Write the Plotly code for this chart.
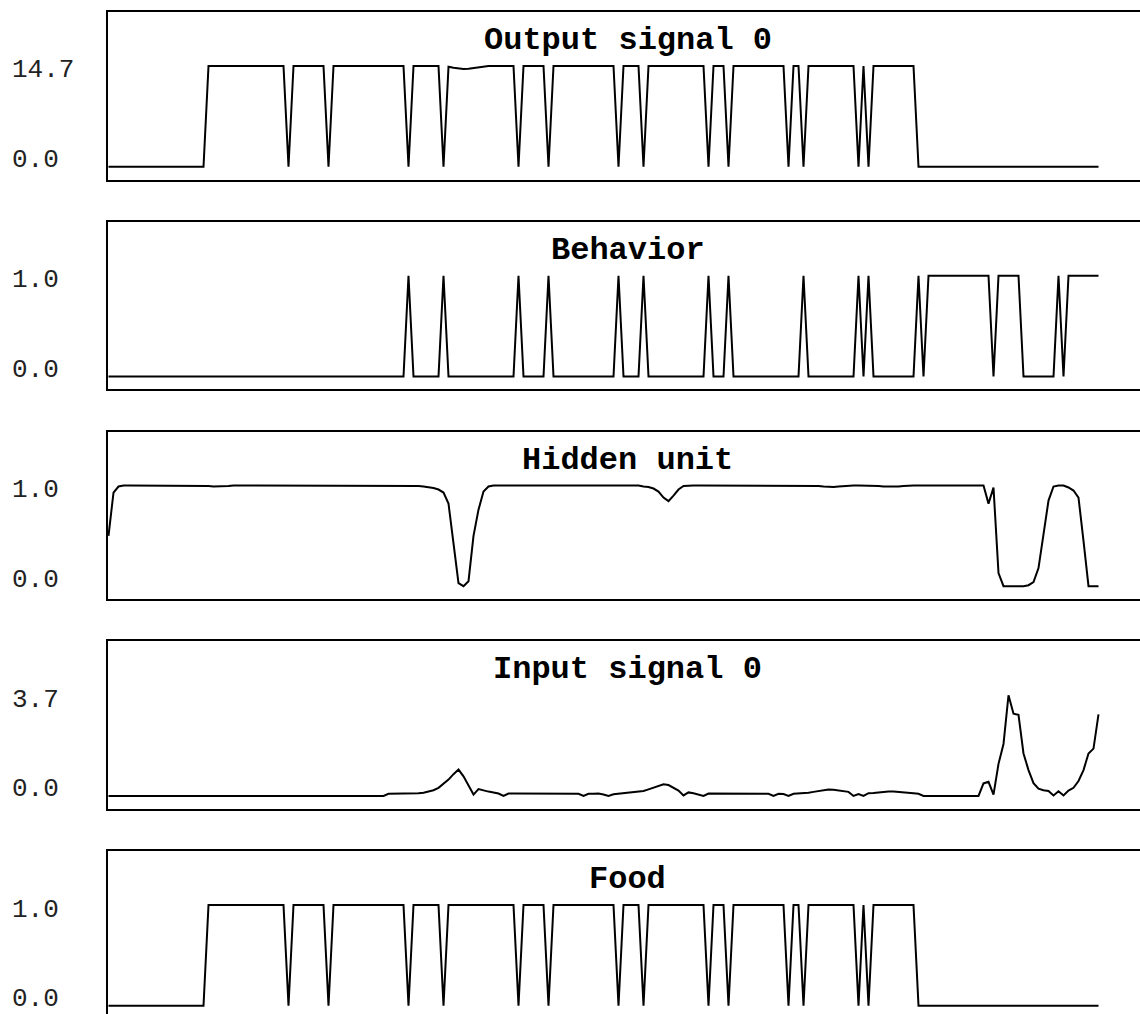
import plotly.graph_objects as go

W, H = 1140, 1014

steps = list(range(199))

food = [
    0,0,0,0,0,0,0,0,0,0, 0,0,0,0,0,0,0,0,0,0,
    1,1,1,1,1,1,1,1,1,1, 1,1,1,1,1,1,0,1,1,1,
    1,1,1,1,0,1,1,1,1,1, 1,1,1,1,1,1,1,1,1,1,
    0,1,1,1,1,1,1,0,1,1, 1,1,1,1,1,1,1,1,1,1,
    1,1,0,1,1,1,1,1,0,1, 1,1,1,1,1,1,1,1,1,1,
    1,1,0,1,1,1,1,0,1,1, 1,1,1,1,1,1,1,1,1,1,
    0,1,1,1,0,1,1,1,1,1, 1,1,1,1,1,1,0,1,1,0,
    1,1,1,1,1,1,1,1,1,1, 0,1,0,1,1,1,1,1,1,1,
    1,1,0,0,0,0,0,0,0,0, 0,0,0,0,0,0,0,0,0,0,
    0,0,0,0,0,0,0,0,0,0, 0,0,0,0,0,0,0,0,0,
]

output_signal = [
    0.0,0.0,0.0,0.0,0.0,0.0,0.0,0.0,0.0,0.0, 0.0,0.0,0.0,0.0,0.0,0.0,0.0,0.0,0.0,0.0,
    14.7,14.7,14.7,14.7,14.7,14.7,14.7,14.7,14.7,14.7, 14.7,14.7,14.7,14.7,14.7,14.7,0.0,14.7,14.7,14.7,
    14.7,14.7,14.7,14.7,0.0,14.7,14.7,14.7,14.7,14.7, 14.7,14.7,14.7,14.7,14.7,14.7,14.7,14.7,14.7,14.7,
    0.0,14.7,14.7,14.7,14.7,14.7,14.7,0.0,14.6,14.45, 14.3,14.25,14.3,14.4,14.55,14.65,14.7,14.7,14.7,14.7,
    14.7,14.7,0.0,14.7,14.7,14.7,14.7,14.7,0.0,14.7, 14.7,14.7,14.7,14.7,14.7,14.7,14.7,14.7,14.7,14.7,
    14.7,14.7,0.0,14.7,14.7,14.7,14.7,0.0,14.7,14.7, 14.7,14.7,14.65,14.6,14.6,14.65,14.7,14.7,14.7,14.7,
    0.0,14.7,14.7,14.7,0.0,14.7,14.7,14.7,14.7,14.7, 14.7,14.7,14.7,14.7,14.7,14.7,0.0,14.7,14.7,0.0,
    14.7,14.7,14.7,14.7,14.7,14.7,14.7,14.7,14.7,14.7, 0.0,14.7,0.0,14.7,14.7,14.7,14.7,14.7,14.7,14.7,
    14.7,14.7,0.0,0.0,0.0,0.0,0.0,0.0,0.0,0.0, 0.0,0.0,0.0,0.0,0.0,0.0,0.0,0.0,0.0,0.0,
    0.0,0.0,0.0,0.0,0.0,0.0,0.0,0.0,0.0,0.0, 0.0,0.0,0.0,0.0,0.0,0.0,0.0,0.0,0.0,
]

behavior = [
    0,0,0,0,0,0,0,0,0,0, 0,0,0,0,0,0,0,0,0,0,
    0,0,0,0,0,0,0,0,0,0, 0,0,0,0,0,0,0,0,0,0,
    0,0,0,0,0,0,0,0,0,0, 0,0,0,0,0,0,0,0,0,0,
    1,0,0,0,0,0,0,1,0,0, 0,0,0,0,0,0,0,0,0,0,
    0,0,1,0,0,0,0,0,1,0, 0,0,0,0,0,0,0,0,0,0,
    0,0,1,0,0,0,0,1,0,0, 0,0,0,0,0,0,0,0,0,0,
    1,0,0,0,1,0,0,0,0,0, 0,0,0,0,0,0,0,0,0,1,
    0,0,0,0,0,0,0,0,0,0, 1,0,1,0,0,0,0,0,0,0,
    0,0,1,0,1,1,1,1,1,1, 1,1,1,1,1,1,1,0,1,1,
    1,1,1,0,0,0,0,0,0,0, 1,0,1,1,1,1,1,1,1,
]

hidden_unit = [
    0.50,0.93,0.99,1.00,1.00,1.00,1.00,1.00,1.00,1.00, 1.00,1.00,1.00,1.00,1.00,1.00,1.00,1.00,1.00,1.00,
    0.995,0.99,0.99,0.99,0.995,1.00,1.00,1.00,1.00,1.00, 1.00,1.00,1.00,1.00,1.00,1.00,1.00,1.00,1.00,1.00,
    1.00,1.00,1.00,1.00,1.00,1.00,1.00,1.00,1.00,1.00, 1.00,1.00,1.00,1.00,1.00,1.00,1.00,1.00,1.00,1.00,
    1.00,1.00,0.995,0.99,0.985,0.975,0.96,0.93,0.82,0.42, 0.03,0.00,0.05,0.50,0.76,0.94,0.99,1.00,1.00,1.00,
    1.00,1.00,1.00,1.00,1.00,1.00,1.00,1.00,1.00,1.00, 1.00,1.00,1.00,1.00,1.00,1.00,1.00,1.00,1.00,1.00,
    1.00,1.00,1.00,1.00,1.00,1.00,1.00,0.99,0.985,0.97, 0.94,0.88,0.845,0.90,0.96,0.995,1.00,1.00,1.00,1.00,
    1.00,1.00,1.00,1.00,1.00,1.00,1.00,1.00,1.00,1.00, 1.00,1.00,1.00,1.00,1.00,1.00,1.00,1.00,1.00,1.00,
    1.00,1.00,0.995,0.99,0.985,0.985,0.99,0.995,1.00,1.00, 1.00,1.00,1.00,1.00,0.995,0.99,0.99,0.985,0.99,0.995,
    1.00,1.00,1.00,1.00,1.00,1.00,1.00,1.00,1.00,1.00, 1.00,1.00,1.00,1.00,1.00,1.00,0.82,0.98,0.13,0.00,
    0.00,0.00,0.00,0.00,0.01,0.04,0.18,0.50,0.85,0.99, 1.00,1.00,0.98,0.95,0.88,0.45,0.00,0.00,0.00,
]

input_signal = [
    0.00,0.00,0.00,0.00,0.00,0.00,0.00,0.00,0.00,0.00, 0.00,0.00,0.00,0.00,0.00,0.00,0.00,0.00,0.00,0.00,
    0.00,0.00,0.00,0.00,0.00,0.00,0.00,0.00,0.00,0.00, 0.00,0.00,0.00,0.00,0.00,0.00,0.00,0.00,0.00,0.00,
    0.00,0.00,0.00,0.00,0.00,0.00,0.00,0.00,0.00,0.00, 0.00,0.00,0.00,0.00,0.00,0.00,0.08,0.08,0.08,0.08,
    0.08,0.09,0.10,0.12,0.16,0.21,0.30,0.45,0.60,0.80, 0.97,0.72,0.40,0.05,0.25,0.20,0.16,0.13,0.09,0.00,
    0.09,0.09,0.09,0.09,0.09,0.09,0.09,0.09,0.09,0.09, 0.09,0.09,0.09,0.09,0.08,0.00,0.08,0.08,0.09,0.05,
    0.00,0.06,0.08,0.10,0.11,0.12,0.15,0.18,0.24,0.30, 0.38,0.43,0.40,0.30,0.20,0.02,0.13,0.10,0.06,0.00,
    0.09,0.09,0.09,0.09,0.09,0.09,0.09,0.09,0.09,0.09, 0.09,0.09,0.08,0.00,0.08,0.07,0.00,0.08,0.09,0.10,
    0.12,0.15,0.18,0.21,0.24,0.23,0.21,0.18,0.15,0.00, 0.07,0.00,0.10,0.11,0.13,0.15,0.16,0.16,0.15,0.13,
    0.12,0.10,0.08,0.00,0.00,0.00,0.00,0.00,0.00,0.00, 0.00,0.00,0.00,0.00,0.00,0.46,0.52,0.05,1.18,1.91,
    3.70,3.02,2.98,1.56,0.95,0.47,0.27,0.21,0.18,0.02, 0.17,0.02,0.20,0.30,0.55,0.95,1.56,1.74,3.00,
]

titles = ["Output signal 0", "Behavior", "Hidden unit", "Input signal 0", "Food"]
series = [output_signal, behavior, hidden_unit, input_signal, food]
max_values = [14.7, 1.0, 1.0, 3.7, 1.0]
max_labels = ["14.7", "1.0", "1.0", "3.7", "1.0"]
min_label = "0.0"

# ---- layout geometry (pixels) ----
TOP0 = 11.0        # centre of first panel's top border
PITCH = 209.75     # vertical distance between panels
BOX_H = 169.5      # border centre to border centre
ZERO_OFF = 155.7   # zero level below top border
MAX_OFF = 55.0     # max level below top border
X_LEFT = 108.0     # inner left edge of plot area
X0 = 107.5         # pixel of first sample
DX = 5.0           # pixels per sample
FONT = "Courier New, Liberation Mono, monospace"

fig = go.Figure()

x_r0 = -(X_LEFT - X0) / DX
x_r1 = x_r0 + (W - X_LEFT) / DX

annotations = []
for k, (title, ys, m, lab) in enumerate(zip(titles, series, max_values, max_labels)):
    sfx = "" if k == 0 else str(k + 1)
    T = TOP0 + k * PITCH
    top_px = T + 1
    bot_px = min(T + BOX_H - 1, H)
    zero_px = T + ZERO_OFF
    ppu = (ZERO_OFF - MAX_OFF) / m
    r_top = (zero_px - top_px) / ppu
    r_bot = -(bot_px - zero_px) / ppu

    fig.add_trace(go.Scatter(
        x=steps, y=ys, mode="lines",
        line=dict(color="black", width=2),
        xaxis="x" + sfx, yaxis="y" + sfx,
        hoverinfo="skip", showlegend=False,
    ))

    fig.update_layout(**{
        "xaxis" + sfx: dict(
            domain=[X_LEFT / W, 1], range=[x_r0, x_r1], anchor="y" + sfx,
            showline=True, mirror=True, linecolor="black", linewidth=2,
            showgrid=False, zeroline=False, ticks="", showticklabels=False,
            fixedrange=True,
        ),
        "yaxis" + sfx: dict(
            domain=[max(0.0, 1 - bot_px / H), 1 - top_px / H],
            range=[r_bot, r_top], anchor="x" + sfx,
            showline=True, mirror=False, linecolor="black", linewidth=2,
            showgrid=False, zeroline=False, ticks="", showticklabels=False,
            fixedrange=True,
        ),
    })

    annotations.append(dict(
        text=title, xref="paper", yref="paper",
        x=627.5 / W, y=1 - (T + 29.5) / H, xanchor="center", yanchor="middle",
        showarrow=False, font=dict(family=FONT, size=32, color="black", weight="bold"),
        borderpad=0,
    ))
    annotations.append(dict(
        text=lab, xref="paper", yref="y" + sfx,
        x=11 / W, y=m, yshift=-4.5, xanchor="left", yanchor="middle",
        showarrow=False, font=dict(family=FONT, size=26, color="#222222"),
        borderpad=0,
    ))
    annotations.append(dict(
        text=min_label, xref="paper", yref="y" + sfx,
        x=11 / W, y=0, yshift=6.7, xanchor="left", yanchor="middle",
        showarrow=False, font=dict(family=FONT, size=26, color="#222222"),
        borderpad=0,
    ))

fig.update_layout(
    width=W, height=H,
    margin=dict(l=0, r=0, t=0, b=0, pad=0),
    paper_bgcolor="white", plot_bgcolor="white",
    annotations=annotations,
    showlegend=False,
)

fig.write_html("out.html", config={"displayModeBar": False})
